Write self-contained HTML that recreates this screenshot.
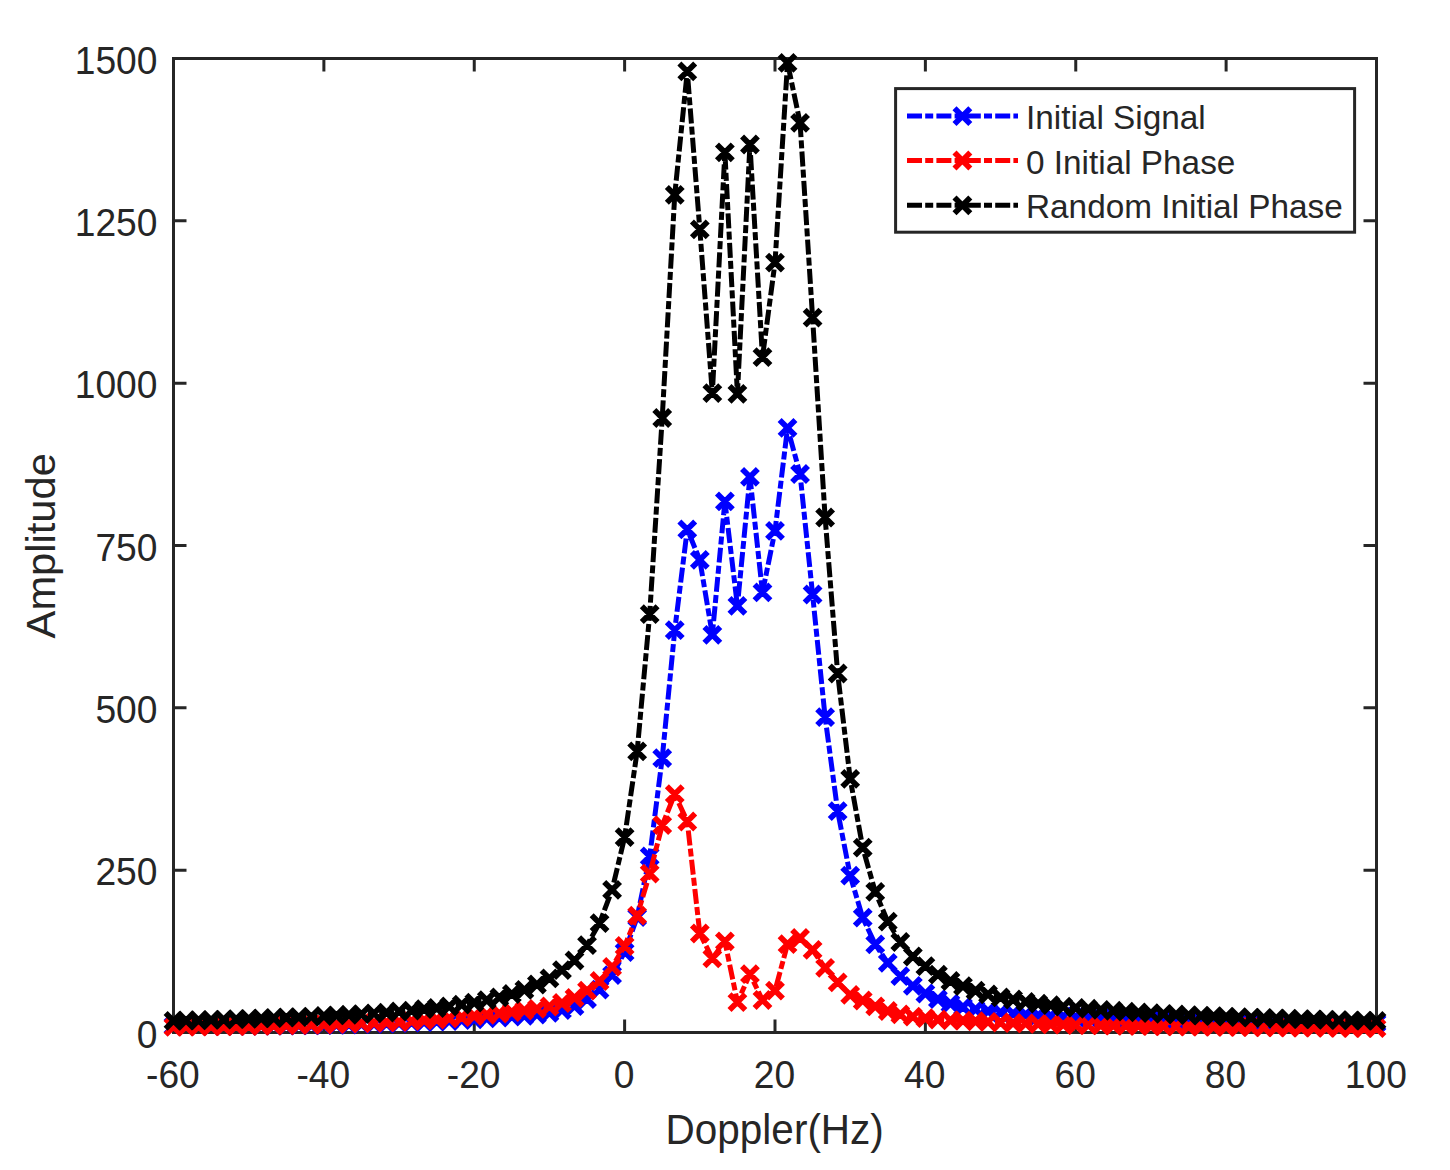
<!DOCTYPE html>
<html><head><meta charset="utf-8"><title>Doppler spectrum</title>
<style>
html,body{margin:0;padding:0;background:#fff;}
body{width:1450px;height:1170px;overflow:hidden;}
svg{display:block;}
text{font-family:"Liberation Sans",sans-serif;fill:#262626;}
.tk{font-size:37.2px;}
.lb{font-size:41.25px;}
.lg{font-size:33.33px;}
</style></head><body>
<svg width="1450" height="1170" viewBox="0 0 1450 1170">
<rect x="0" y="0" width="1450" height="1170" fill="#ffffff"/>
<rect x="173.5" y="58.5" width="1203.0" height="974.0" fill="none" stroke="#262626" stroke-width="3"/>
<path d="M173.50 1032.5V1019.5M173.50 58.5V71.5M323.88 1032.5V1019.5M323.88 58.5V71.5M474.25 1032.5V1019.5M474.25 58.5V71.5M624.62 1032.5V1019.5M624.62 58.5V71.5M775.00 1032.5V1019.5M775.00 58.5V71.5M925.38 1032.5V1019.5M925.38 58.5V71.5M1075.75 1032.5V1019.5M1075.75 58.5V71.5M1226.12 1032.5V1019.5M1226.12 58.5V71.5M1376.50 1032.5V1019.5M1376.50 58.5V71.5M173.5 1032.50H186.5M1376.5 1032.50H1363.5M173.5 870.17H186.5M1376.5 870.17H1363.5M173.5 707.83H186.5M1376.5 707.83H1363.5M173.5 545.50H186.5M1376.5 545.50H1363.5M173.5 383.17H186.5M1376.5 383.17H1363.5M173.5 220.83H186.5M1376.5 220.83H1363.5M173.5 58.50H186.5M1376.5 58.50H1363.5" fill="none" stroke="#262626" stroke-width="3"/>
<text class="tk" transform="translate(172.90 1087.6) scale(1 1.035)" text-anchor="middle">-60</text>
<text class="tk" transform="translate(323.27 1087.6) scale(1 1.035)" text-anchor="middle">-40</text>
<text class="tk" transform="translate(473.65 1087.6) scale(1 1.035)" text-anchor="middle">-20</text>
<text class="tk" transform="translate(624.02 1087.6) scale(1 1.035)" text-anchor="middle">0</text>
<text class="tk" transform="translate(774.40 1087.6) scale(1 1.035)" text-anchor="middle">20</text>
<text class="tk" transform="translate(924.77 1087.6) scale(1 1.035)" text-anchor="middle">40</text>
<text class="tk" transform="translate(1075.15 1087.6) scale(1 1.035)" text-anchor="middle">60</text>
<text class="tk" transform="translate(1225.53 1087.6) scale(1 1.035)" text-anchor="middle">80</text>
<text class="tk" transform="translate(1375.90 1087.6) scale(1 1.035)" text-anchor="middle">100</text>
<text class="tk" transform="translate(157.5 1047.50) scale(1 1.035)" text-anchor="end">0</text>
<text class="tk" transform="translate(157.5 885.17) scale(1 1.035)" text-anchor="end">250</text>
<text class="tk" transform="translate(157.5 722.83) scale(1 1.035)" text-anchor="end">500</text>
<text class="tk" transform="translate(157.5 560.50) scale(1 1.035)" text-anchor="end">750</text>
<text class="tk" transform="translate(157.5 398.17) scale(1 1.035)" text-anchor="end">1000</text>
<text class="tk" transform="translate(157.5 235.83) scale(1 1.035)" text-anchor="end">1250</text>
<text class="tk" transform="translate(157.5 73.50) scale(1 1.035)" text-anchor="end">1500</text>
<text class="lb" transform="translate(774.7 1143.8) scale(0.982 1.03)" text-anchor="middle">Doppler(Hz)</text>
<text class="lb" transform="translate(54.9 545.8) rotate(-90) scale(1.01 1)" text-anchor="middle">Amplitude</text>
<path d="M173.50 1026.00L186.03 1025.97L198.56 1025.93L211.09 1025.90L223.62 1025.87L236.16 1025.83L248.69 1025.80L261.22 1025.70L273.75 1025.60L286.28 1025.50L298.81 1025.40L311.34 1025.30L323.88 1025.20L336.41 1024.87L348.94 1024.53L361.47 1024.20L374.00 1023.87L386.53 1023.53L399.06 1023.20L411.59 1022.65L424.12 1022.10L436.66 1021.55L449.19 1021.00L461.72 1020.15L474.25 1019.30L486.78 1018.40L499.31 1017.50L511.84 1016.65L524.38 1015.80L536.91 1014.50L549.44 1012.80L561.97 1010.00L574.50 1006.20L587.03 999.00L599.56 989.70L612.09 975.20L624.62 952.20L637.16 917.20L649.69 856.30L662.22 758.20L674.75 630.10L687.28 529.30L699.81 559.90L712.34 634.80L724.88 501.40L737.41 605.90L749.94 476.80L762.47 592.40L775.00 530.80L787.53 427.90L800.06 474.00L812.59 594.50L825.12 717.20L837.66 811.10L850.19 875.60L862.72 917.70L875.25 944.40L887.78 962.90L900.31 976.20L912.84 985.90L925.38 993.50L937.91 999.20L950.44 1003.60L962.97 1007.00L975.50 1009.30L988.03 1011.10L1000.56 1012.60L1013.09 1013.70L1025.62 1014.60L1038.16 1015.40L1050.69 1016.00L1063.22 1016.50L1075.75 1017.00L1088.28 1017.38L1100.81 1017.77L1113.34 1018.15L1125.88 1018.53L1138.41 1018.92L1150.94 1019.30L1163.47 1019.58L1176.00 1019.87L1188.53 1020.15L1201.06 1020.43L1213.59 1020.72L1226.12 1021.00L1238.66 1021.20L1251.19 1021.40L1263.72 1021.60L1276.25 1021.80L1288.78 1022.00L1301.31 1022.20L1313.84 1022.33L1326.38 1022.47L1338.91 1022.60L1351.44 1022.73L1363.97 1022.87L1376.50 1023.00" fill="none" stroke="#0000ff" stroke-width="5.0" stroke-dasharray="15 3.2 8 3.2" stroke-linejoin="round"/>
<path d="M165.60 1018.10L181.40 1033.90M165.60 1033.90L181.40 1018.10M178.13 1018.07L193.93 1033.87M178.13 1033.87L193.93 1018.07M190.66 1018.03L206.46 1033.83M190.66 1033.83L206.46 1018.03M203.19 1018.00L218.99 1033.80M203.19 1033.80L218.99 1018.00M215.72 1017.97L231.53 1033.77M215.72 1033.77L231.53 1017.97M228.26 1017.93L244.06 1033.73M228.26 1033.73L244.06 1017.93M240.79 1017.90L256.59 1033.70M240.79 1033.70L256.59 1017.90M253.32 1017.80L269.12 1033.60M253.32 1033.60L269.12 1017.80M265.85 1017.70L281.65 1033.50M265.85 1033.50L281.65 1017.70M278.38 1017.60L294.18 1033.40M278.38 1033.40L294.18 1017.60M290.91 1017.50L306.71 1033.30M290.91 1033.30L306.71 1017.50M303.44 1017.40L319.24 1033.20M303.44 1033.20L319.24 1017.40M315.98 1017.30L331.77 1033.10M315.98 1033.10L331.77 1017.30M328.51 1016.97L344.31 1032.77M328.51 1032.77L344.31 1016.97M341.04 1016.63L356.84 1032.43M341.04 1032.43L356.84 1016.63M353.57 1016.30L369.37 1032.10M353.57 1032.10L369.37 1016.30M366.10 1015.97L381.90 1031.77M366.10 1031.77L381.90 1015.97M378.63 1015.63L394.43 1031.43M378.63 1031.43L394.43 1015.63M391.16 1015.30L406.96 1031.10M391.16 1031.10L406.96 1015.30M403.69 1014.75L419.49 1030.55M403.69 1030.55L419.49 1014.75M416.23 1014.20L432.02 1030.00M416.23 1030.00L432.02 1014.20M428.76 1013.65L444.56 1029.45M428.76 1029.45L444.56 1013.65M441.29 1013.10L457.09 1028.90M441.29 1028.90L457.09 1013.10M453.82 1012.25L469.62 1028.05M453.82 1028.05L469.62 1012.25M466.35 1011.40L482.15 1027.20M466.35 1027.20L482.15 1011.40M478.88 1010.50L494.68 1026.30M478.88 1026.30L494.68 1010.50M491.41 1009.60L507.21 1025.40M491.41 1025.40L507.21 1009.60M503.94 1008.75L519.74 1024.55M503.94 1024.55L519.74 1008.75M516.48 1007.90L532.27 1023.70M516.48 1023.70L532.27 1007.90M529.01 1006.60L544.81 1022.40M529.01 1022.40L544.81 1006.60M541.54 1004.90L557.34 1020.70M541.54 1020.70L557.34 1004.90M554.07 1002.10L569.87 1017.90M554.07 1017.90L569.87 1002.10M566.60 998.30L582.40 1014.10M566.60 1014.10L582.40 998.30M579.13 991.10L594.93 1006.90M579.13 1006.90L594.93 991.10M591.66 981.80L607.46 997.60M591.66 997.60L607.46 981.80M604.19 967.30L619.99 983.10M604.19 983.10L619.99 967.30M616.73 944.30L632.52 960.10M616.73 960.10L632.52 944.30M629.26 909.30L645.06 925.10M629.26 925.10L645.06 909.30M641.79 848.40L657.59 864.20M641.79 864.20L657.59 848.40M654.32 750.30L670.12 766.10M654.32 766.10L670.12 750.30M666.85 622.20L682.65 638.00M666.85 638.00L682.65 622.20M679.38 521.40L695.18 537.20M679.38 537.20L695.18 521.40M691.91 552.00L707.71 567.80M691.91 567.80L707.71 552.00M704.44 626.90L720.24 642.70M704.44 642.70L720.24 626.90M716.98 493.50L732.77 509.30M716.98 509.30L732.77 493.50M729.51 598.00L745.31 613.80M729.51 613.80L745.31 598.00M742.04 468.90L757.84 484.70M742.04 484.70L757.84 468.90M754.57 584.50L770.37 600.30M754.57 600.30L770.37 584.50M767.10 522.90L782.90 538.70M767.10 538.70L782.90 522.90M779.63 420.00L795.43 435.80M779.63 435.80L795.43 420.00M792.16 466.10L807.96 481.90M792.16 481.90L807.96 466.10M804.69 586.60L820.49 602.40M804.69 602.40L820.49 586.60M817.23 709.30L833.02 725.10M817.23 725.10L833.02 709.30M829.76 803.20L845.56 819.00M829.76 819.00L845.56 803.20M842.29 867.70L858.09 883.50M842.29 883.50L858.09 867.70M854.82 909.80L870.62 925.60M854.82 925.60L870.62 909.80M867.35 936.50L883.15 952.30M867.35 952.30L883.15 936.50M879.88 955.00L895.68 970.80M879.88 970.80L895.68 955.00M892.41 968.30L908.21 984.10M892.41 984.10L908.21 968.30M904.94 978.00L920.74 993.80M904.94 993.80L920.74 978.00M917.48 985.60L933.27 1001.40M917.48 1001.40L933.27 985.60M930.01 991.30L945.81 1007.10M930.01 1007.10L945.81 991.30M942.54 995.70L958.34 1011.50M942.54 1011.50L958.34 995.70M955.07 999.10L970.87 1014.90M955.07 1014.90L970.87 999.10M967.60 1001.40L983.40 1017.20M967.60 1017.20L983.40 1001.40M980.13 1003.20L995.93 1019.00M980.13 1019.00L995.93 1003.20M992.66 1004.70L1008.46 1020.50M992.66 1020.50L1008.46 1004.70M1005.19 1005.80L1020.99 1021.60M1005.19 1021.60L1020.99 1005.80M1017.73 1006.70L1033.53 1022.50M1017.73 1022.50L1033.53 1006.70M1030.26 1007.50L1046.06 1023.30M1030.26 1023.30L1046.06 1007.50M1042.79 1008.10L1058.59 1023.90M1042.79 1023.90L1058.59 1008.10M1055.32 1008.60L1071.12 1024.40M1055.32 1024.40L1071.12 1008.60M1067.85 1009.10L1083.65 1024.90M1067.85 1024.90L1083.65 1009.10M1080.38 1009.48L1096.18 1025.28M1080.38 1025.28L1096.18 1009.48M1092.91 1009.87L1108.71 1025.67M1092.91 1025.67L1108.71 1009.87M1105.44 1010.25L1121.24 1026.05M1105.44 1026.05L1121.24 1010.25M1117.97 1010.63L1133.78 1026.43M1117.97 1026.43L1133.78 1010.63M1130.51 1011.02L1146.31 1026.82M1130.51 1026.82L1146.31 1011.02M1143.04 1011.40L1158.84 1027.20M1143.04 1027.20L1158.84 1011.40M1155.57 1011.68L1171.37 1027.48M1155.57 1027.48L1171.37 1011.68M1168.10 1011.97L1183.90 1027.77M1168.10 1027.77L1183.90 1011.97M1180.63 1012.25L1196.43 1028.05M1180.63 1028.05L1196.43 1012.25M1193.16 1012.53L1208.96 1028.33M1193.16 1028.33L1208.96 1012.53M1205.69 1012.82L1221.49 1028.62M1205.69 1028.62L1221.49 1012.82M1218.22 1013.10L1234.03 1028.90M1218.22 1028.90L1234.03 1013.10M1230.76 1013.30L1246.56 1029.10M1230.76 1029.10L1246.56 1013.30M1243.29 1013.50L1259.09 1029.30M1243.29 1029.30L1259.09 1013.50M1255.82 1013.70L1271.62 1029.50M1255.82 1029.50L1271.62 1013.70M1268.35 1013.90L1284.15 1029.70M1268.35 1029.70L1284.15 1013.90M1280.88 1014.10L1296.68 1029.90M1280.88 1029.90L1296.68 1014.10M1293.41 1014.30L1309.21 1030.10M1293.41 1030.10L1309.21 1014.30M1305.94 1014.43L1321.74 1030.23M1305.94 1030.23L1321.74 1014.43M1318.47 1014.57L1334.28 1030.37M1318.47 1030.37L1334.28 1014.57M1331.01 1014.70L1346.81 1030.50M1331.01 1030.50L1346.81 1014.70M1343.54 1014.83L1359.34 1030.63M1343.54 1030.63L1359.34 1014.83M1356.07 1014.97L1371.87 1030.77M1356.07 1030.77L1371.87 1014.97M1368.60 1015.10L1384.40 1030.90M1368.60 1030.90L1384.40 1015.10" fill="none" stroke="#0000ff" stroke-width="5.7"/>
<path d="M173.50 1026.80L186.03 1026.67L198.56 1026.53L211.09 1026.40L223.62 1026.27L236.16 1026.13L248.69 1026.00L261.22 1025.75L273.75 1025.50L286.28 1025.25L298.81 1025.00L311.34 1024.75L323.88 1024.50L336.41 1024.08L348.94 1023.67L361.47 1023.25L374.00 1022.83L386.53 1022.42L399.06 1022.00L411.59 1021.17L424.12 1020.33L436.66 1019.50L449.19 1018.33L461.72 1017.17L474.25 1016.00L486.78 1014.75L499.31 1013.50L511.84 1012.00L524.38 1010.50L536.91 1008.80L549.44 1006.50L561.97 1003.00L574.50 997.90L587.03 990.70L599.56 981.00L612.09 966.90L624.62 946.00L637.16 915.70L649.69 873.70L662.22 825.20L674.75 794.20L687.28 821.50L699.81 933.50L712.34 958.40L724.88 941.40L737.41 1002.10L749.94 974.10L762.47 1000.00L775.00 990.70L787.53 944.20L800.06 938.00L812.59 949.90L825.12 967.90L837.66 982.40L850.19 994.80L862.72 1000.50L875.25 1006.40L887.78 1011.00L900.31 1014.30L912.84 1016.60L925.38 1018.20L937.91 1019.50L950.44 1020.30L962.97 1020.60L975.50 1021.23L988.03 1021.87L1000.56 1022.50L1013.09 1022.97L1025.62 1023.43L1038.16 1023.90L1050.69 1024.27L1063.22 1024.63L1075.75 1025.00L1088.28 1025.18L1100.81 1025.37L1113.34 1025.55L1125.88 1025.73L1138.41 1025.92L1150.94 1026.10L1163.47 1026.23L1176.00 1026.37L1188.53 1026.50L1201.06 1026.63L1213.59 1026.77L1226.12 1026.90L1238.66 1027.02L1251.19 1027.13L1263.72 1027.25L1276.25 1027.37L1288.78 1027.48L1301.31 1027.60L1313.84 1027.70L1326.38 1027.80L1338.91 1027.90L1351.44 1028.00L1363.97 1028.10L1376.50 1028.20" fill="none" stroke="#ff0000" stroke-width="5.0" stroke-dasharray="15 3.2 8 3.2" stroke-linejoin="round"/>
<path d="M165.60 1018.90L181.40 1034.70M165.60 1034.70L181.40 1018.90M178.13 1018.77L193.93 1034.57M178.13 1034.57L193.93 1018.77M190.66 1018.63L206.46 1034.43M190.66 1034.43L206.46 1018.63M203.19 1018.50L218.99 1034.30M203.19 1034.30L218.99 1018.50M215.72 1018.37L231.53 1034.17M215.72 1034.17L231.53 1018.37M228.26 1018.23L244.06 1034.03M228.26 1034.03L244.06 1018.23M240.79 1018.10L256.59 1033.90M240.79 1033.90L256.59 1018.10M253.32 1017.85L269.12 1033.65M253.32 1033.65L269.12 1017.85M265.85 1017.60L281.65 1033.40M265.85 1033.40L281.65 1017.60M278.38 1017.35L294.18 1033.15M278.38 1033.15L294.18 1017.35M290.91 1017.10L306.71 1032.90M290.91 1032.90L306.71 1017.10M303.44 1016.85L319.24 1032.65M303.44 1032.65L319.24 1016.85M315.98 1016.60L331.77 1032.40M315.98 1032.40L331.77 1016.60M328.51 1016.18L344.31 1031.98M328.51 1031.98L344.31 1016.18M341.04 1015.77L356.84 1031.57M341.04 1031.57L356.84 1015.77M353.57 1015.35L369.37 1031.15M353.57 1031.15L369.37 1015.35M366.10 1014.93L381.90 1030.73M366.10 1030.73L381.90 1014.93M378.63 1014.52L394.43 1030.32M378.63 1030.32L394.43 1014.52M391.16 1014.10L406.96 1029.90M391.16 1029.90L406.96 1014.10M403.69 1013.27L419.49 1029.07M403.69 1029.07L419.49 1013.27M416.23 1012.43L432.02 1028.23M416.23 1028.23L432.02 1012.43M428.76 1011.60L444.56 1027.40M428.76 1027.40L444.56 1011.60M441.29 1010.43L457.09 1026.23M441.29 1026.23L457.09 1010.43M453.82 1009.27L469.62 1025.07M453.82 1025.07L469.62 1009.27M466.35 1008.10L482.15 1023.90M466.35 1023.90L482.15 1008.10M478.88 1006.85L494.68 1022.65M478.88 1022.65L494.68 1006.85M491.41 1005.60L507.21 1021.40M491.41 1021.40L507.21 1005.60M503.94 1004.10L519.74 1019.90M503.94 1019.90L519.74 1004.10M516.48 1002.60L532.27 1018.40M516.48 1018.40L532.27 1002.60M529.01 1000.90L544.81 1016.70M529.01 1016.70L544.81 1000.90M541.54 998.60L557.34 1014.40M541.54 1014.40L557.34 998.60M554.07 995.10L569.87 1010.90M554.07 1010.90L569.87 995.10M566.60 990.00L582.40 1005.80M566.60 1005.80L582.40 990.00M579.13 982.80L594.93 998.60M579.13 998.60L594.93 982.80M591.66 973.10L607.46 988.90M591.66 988.90L607.46 973.10M604.19 959.00L619.99 974.80M604.19 974.80L619.99 959.00M616.73 938.10L632.52 953.90M616.73 953.90L632.52 938.10M629.26 907.80L645.06 923.60M629.26 923.60L645.06 907.80M641.79 865.80L657.59 881.60M641.79 881.60L657.59 865.80M654.32 817.30L670.12 833.10M654.32 833.10L670.12 817.30M666.85 786.30L682.65 802.10M666.85 802.10L682.65 786.30M679.38 813.60L695.18 829.40M679.38 829.40L695.18 813.60M691.91 925.60L707.71 941.40M691.91 941.40L707.71 925.60M704.44 950.50L720.24 966.30M704.44 966.30L720.24 950.50M716.98 933.50L732.77 949.30M716.98 949.30L732.77 933.50M729.51 994.20L745.31 1010.00M729.51 1010.00L745.31 994.20M742.04 966.20L757.84 982.00M742.04 982.00L757.84 966.20M754.57 992.10L770.37 1007.90M754.57 1007.90L770.37 992.10M767.10 982.80L782.90 998.60M767.10 998.60L782.90 982.80M779.63 936.30L795.43 952.10M779.63 952.10L795.43 936.30M792.16 930.10L807.96 945.90M792.16 945.90L807.96 930.10M804.69 942.00L820.49 957.80M804.69 957.80L820.49 942.00M817.23 960.00L833.02 975.80M817.23 975.80L833.02 960.00M829.76 974.50L845.56 990.30M829.76 990.30L845.56 974.50M842.29 986.90L858.09 1002.70M842.29 1002.70L858.09 986.90M854.82 992.60L870.62 1008.40M854.82 1008.40L870.62 992.60M867.35 998.50L883.15 1014.30M867.35 1014.30L883.15 998.50M879.88 1003.10L895.68 1018.90M879.88 1018.90L895.68 1003.10M892.41 1006.40L908.21 1022.20M892.41 1022.20L908.21 1006.40M904.94 1008.70L920.74 1024.50M904.94 1024.50L920.74 1008.70M917.48 1010.30L933.27 1026.10M917.48 1026.10L933.27 1010.30M930.01 1011.60L945.81 1027.40M930.01 1027.40L945.81 1011.60M942.54 1012.40L958.34 1028.20M942.54 1028.20L958.34 1012.40M955.07 1012.70L970.87 1028.50M955.07 1028.50L970.87 1012.70M967.60 1013.33L983.40 1029.13M967.60 1029.13L983.40 1013.33M980.13 1013.97L995.93 1029.77M980.13 1029.77L995.93 1013.97M992.66 1014.60L1008.46 1030.40M992.66 1030.40L1008.46 1014.60M1005.19 1015.07L1020.99 1030.87M1005.19 1030.87L1020.99 1015.07M1017.73 1015.53L1033.53 1031.33M1017.73 1031.33L1033.53 1015.53M1030.26 1016.00L1046.06 1031.80M1030.26 1031.80L1046.06 1016.00M1042.79 1016.37L1058.59 1032.17M1042.79 1032.17L1058.59 1016.37M1055.32 1016.73L1071.12 1032.53M1055.32 1032.53L1071.12 1016.73M1067.85 1017.10L1083.65 1032.90M1067.85 1032.90L1083.65 1017.10M1080.38 1017.28L1096.18 1033.08M1080.38 1033.08L1096.18 1017.28M1092.91 1017.47L1108.71 1033.27M1092.91 1033.27L1108.71 1017.47M1105.44 1017.65L1121.24 1033.45M1105.44 1033.45L1121.24 1017.65M1117.97 1017.83L1133.78 1033.63M1117.97 1033.63L1133.78 1017.83M1130.51 1018.02L1146.31 1033.82M1130.51 1033.82L1146.31 1018.02M1143.04 1018.20L1158.84 1034.00M1143.04 1034.00L1158.84 1018.20M1155.57 1018.33L1171.37 1034.13M1155.57 1034.13L1171.37 1018.33M1168.10 1018.47L1183.90 1034.27M1168.10 1034.27L1183.90 1018.47M1180.63 1018.60L1196.43 1034.40M1180.63 1034.40L1196.43 1018.60M1193.16 1018.73L1208.96 1034.53M1193.16 1034.53L1208.96 1018.73M1205.69 1018.87L1221.49 1034.67M1205.69 1034.67L1221.49 1018.87M1218.22 1019.00L1234.03 1034.80M1218.22 1034.80L1234.03 1019.00M1230.76 1019.12L1246.56 1034.92M1230.76 1034.92L1246.56 1019.12M1243.29 1019.23L1259.09 1035.03M1243.29 1035.03L1259.09 1019.23M1255.82 1019.35L1271.62 1035.15M1255.82 1035.15L1271.62 1019.35M1268.35 1019.47L1284.15 1035.27M1268.35 1035.27L1284.15 1019.47M1280.88 1019.58L1296.68 1035.38M1280.88 1035.38L1296.68 1019.58M1293.41 1019.70L1309.21 1035.50M1293.41 1035.50L1309.21 1019.70M1305.94 1019.80L1321.74 1035.60M1305.94 1035.60L1321.74 1019.80M1318.47 1019.90L1334.28 1035.70M1318.47 1035.70L1334.28 1019.90M1331.01 1020.00L1346.81 1035.80M1331.01 1035.80L1346.81 1020.00M1343.54 1020.10L1359.34 1035.90M1343.54 1035.90L1359.34 1020.10M1356.07 1020.20L1371.87 1036.00M1356.07 1036.00L1371.87 1020.20M1368.60 1020.30L1384.40 1036.10M1368.60 1036.10L1384.40 1020.30" fill="none" stroke="#ff0000" stroke-width="5.7"/>
<path d="M173.50 1020.81L186.03 1020.52L198.56 1020.22L211.09 1019.90L223.62 1019.56L236.16 1019.20L248.69 1018.82L261.22 1018.42L273.75 1017.99L286.28 1017.54L298.81 1017.06L311.34 1016.55L323.88 1016.00L336.41 1015.42L348.94 1014.79L361.47 1014.11L374.00 1013.38L386.53 1012.59L399.06 1011.50L411.59 1010.60L424.12 1009.20L436.66 1008.00L449.19 1006.50L461.72 1004.70L474.25 1002.70L486.78 1000.10L499.31 997.40L511.84 994.00L524.38 989.80L536.91 984.50L549.44 978.40L561.97 970.10L574.50 960.50L587.03 945.10L599.56 923.10L612.09 889.90L624.62 837.20L637.16 751.30L649.69 614.10L662.22 418.00L674.75 194.80L687.28 71.40L699.81 229.30L712.34 393.20L724.88 152.30L737.41 393.80L749.94 144.50L762.47 357.20L775.00 262.60L787.53 62.80L800.06 122.80L812.59 317.70L825.12 517.50L837.66 673.50L850.19 778.80L862.72 847.60L875.25 891.80L887.78 921.60L900.31 942.00L912.84 956.50L925.38 966.20L937.91 974.70L950.44 981.00L962.97 986.10L975.50 990.70L988.03 994.30L1000.56 997.30L1013.09 999.50L1025.62 1001.80L1038.16 1003.60L1050.69 1005.20L1063.22 1006.60L1075.75 1007.80L1088.28 1008.77L1100.81 1009.80L1113.34 1010.75L1125.88 1011.62L1138.41 1012.42L1150.94 1013.16L1163.47 1013.85L1176.00 1014.50L1188.53 1015.10L1201.06 1015.66L1213.59 1016.19L1226.12 1016.68L1238.66 1017.15L1251.19 1017.58L1263.72 1018.00L1276.25 1018.39L1288.78 1018.76L1301.31 1019.11L1313.84 1019.45L1326.38 1019.77L1338.91 1020.07L1351.44 1020.36L1363.97 1020.63L1376.50 1020.90" fill="none" stroke="#000000" stroke-width="5.0" stroke-dasharray="15 3.2 8 3.2" stroke-linejoin="round"/>
<path d="M165.60 1012.91L181.40 1028.71M165.60 1028.71L181.40 1012.91M178.13 1012.62L193.93 1028.42M178.13 1028.42L193.93 1012.62M190.66 1012.32L206.46 1028.12M190.66 1028.12L206.46 1012.32M203.19 1012.00L218.99 1027.80M203.19 1027.80L218.99 1012.00M215.72 1011.66L231.53 1027.46M215.72 1027.46L231.53 1011.66M228.26 1011.30L244.06 1027.10M228.26 1027.10L244.06 1011.30M240.79 1010.92L256.59 1026.72M240.79 1026.72L256.59 1010.92M253.32 1010.52L269.12 1026.32M253.32 1026.32L269.12 1010.52M265.85 1010.09L281.65 1025.89M265.85 1025.89L281.65 1010.09M278.38 1009.64L294.18 1025.44M278.38 1025.44L294.18 1009.64M290.91 1009.16L306.71 1024.96M290.91 1024.96L306.71 1009.16M303.44 1008.65L319.24 1024.45M303.44 1024.45L319.24 1008.65M315.98 1008.10L331.77 1023.90M315.98 1023.90L331.77 1008.10M328.51 1007.52L344.31 1023.32M328.51 1023.32L344.31 1007.52M341.04 1006.89L356.84 1022.69M341.04 1022.69L356.84 1006.89M353.57 1006.21L369.37 1022.01M353.57 1022.01L369.37 1006.21M366.10 1005.48L381.90 1021.28M366.10 1021.28L381.90 1005.48M378.63 1004.69L394.43 1020.49M378.63 1020.49L394.43 1004.69M391.16 1003.60L406.96 1019.40M391.16 1019.40L406.96 1003.60M403.69 1002.70L419.49 1018.50M403.69 1018.50L419.49 1002.70M416.23 1001.30L432.02 1017.10M416.23 1017.10L432.02 1001.30M428.76 1000.10L444.56 1015.90M428.76 1015.90L444.56 1000.10M441.29 998.60L457.09 1014.40M441.29 1014.40L457.09 998.60M453.82 996.80L469.62 1012.60M453.82 1012.60L469.62 996.80M466.35 994.80L482.15 1010.60M466.35 1010.60L482.15 994.80M478.88 992.20L494.68 1008.00M478.88 1008.00L494.68 992.20M491.41 989.50L507.21 1005.30M491.41 1005.30L507.21 989.50M503.94 986.10L519.74 1001.90M503.94 1001.90L519.74 986.10M516.48 981.90L532.27 997.70M516.48 997.70L532.27 981.90M529.01 976.60L544.81 992.40M529.01 992.40L544.81 976.60M541.54 970.50L557.34 986.30M541.54 986.30L557.34 970.50M554.07 962.20L569.87 978.00M554.07 978.00L569.87 962.20M566.60 952.60L582.40 968.40M566.60 968.40L582.40 952.60M579.13 937.20L594.93 953.00M579.13 953.00L594.93 937.20M591.66 915.20L607.46 931.00M591.66 931.00L607.46 915.20M604.19 882.00L619.99 897.80M604.19 897.80L619.99 882.00M616.73 829.30L632.52 845.10M616.73 845.10L632.52 829.30M629.26 743.40L645.06 759.20M629.26 759.20L645.06 743.40M641.79 606.20L657.59 622.00M641.79 622.00L657.59 606.20M654.32 410.10L670.12 425.90M654.32 425.90L670.12 410.10M666.85 186.90L682.65 202.70M666.85 202.70L682.65 186.90M679.38 63.50L695.18 79.30M679.38 79.30L695.18 63.50M691.91 221.40L707.71 237.20M691.91 237.20L707.71 221.40M704.44 385.30L720.24 401.10M704.44 401.10L720.24 385.30M716.98 144.40L732.77 160.20M716.98 160.20L732.77 144.40M729.51 385.90L745.31 401.70M729.51 401.70L745.31 385.90M742.04 136.60L757.84 152.40M742.04 152.40L757.84 136.60M754.57 349.30L770.37 365.10M754.57 365.10L770.37 349.30M767.10 254.70L782.90 270.50M767.10 270.50L782.90 254.70M779.63 54.90L795.43 70.70M779.63 70.70L795.43 54.90M792.16 114.90L807.96 130.70M792.16 130.70L807.96 114.90M804.69 309.80L820.49 325.60M804.69 325.60L820.49 309.80M817.23 509.60L833.02 525.40M817.23 525.40L833.02 509.60M829.76 665.60L845.56 681.40M829.76 681.40L845.56 665.60M842.29 770.90L858.09 786.70M842.29 786.70L858.09 770.90M854.82 839.70L870.62 855.50M854.82 855.50L870.62 839.70M867.35 883.90L883.15 899.70M867.35 899.70L883.15 883.90M879.88 913.70L895.68 929.50M879.88 929.50L895.68 913.70M892.41 934.10L908.21 949.90M892.41 949.90L908.21 934.10M904.94 948.60L920.74 964.40M904.94 964.40L920.74 948.60M917.48 958.30L933.27 974.10M917.48 974.10L933.27 958.30M930.01 966.80L945.81 982.60M930.01 982.60L945.81 966.80M942.54 973.10L958.34 988.90M942.54 988.90L958.34 973.10M955.07 978.20L970.87 994.00M955.07 994.00L970.87 978.20M967.60 982.80L983.40 998.60M967.60 998.60L983.40 982.80M980.13 986.40L995.93 1002.20M980.13 1002.20L995.93 986.40M992.66 989.40L1008.46 1005.20M992.66 1005.20L1008.46 989.40M1005.19 991.60L1020.99 1007.40M1005.19 1007.40L1020.99 991.60M1017.73 993.90L1033.53 1009.70M1017.73 1009.70L1033.53 993.90M1030.26 995.70L1046.06 1011.50M1030.26 1011.50L1046.06 995.70M1042.79 997.30L1058.59 1013.10M1042.79 1013.10L1058.59 997.30M1055.32 998.70L1071.12 1014.50M1055.32 1014.50L1071.12 998.70M1067.85 999.90L1083.65 1015.70M1067.85 1015.70L1083.65 999.90M1080.38 1000.87L1096.18 1016.67M1080.38 1016.67L1096.18 1000.87M1092.91 1001.90L1108.71 1017.70M1092.91 1017.70L1108.71 1001.90M1105.44 1002.85L1121.24 1018.65M1105.44 1018.65L1121.24 1002.85M1117.97 1003.72L1133.78 1019.52M1117.97 1019.52L1133.78 1003.72M1130.51 1004.52L1146.31 1020.32M1130.51 1020.32L1146.31 1004.52M1143.04 1005.26L1158.84 1021.06M1143.04 1021.06L1158.84 1005.26M1155.57 1005.95L1171.37 1021.75M1155.57 1021.75L1171.37 1005.95M1168.10 1006.60L1183.90 1022.40M1168.10 1022.40L1183.90 1006.60M1180.63 1007.20L1196.43 1023.00M1180.63 1023.00L1196.43 1007.20M1193.16 1007.76L1208.96 1023.56M1193.16 1023.56L1208.96 1007.76M1205.69 1008.29L1221.49 1024.09M1205.69 1024.09L1221.49 1008.29M1218.22 1008.78L1234.03 1024.58M1218.22 1024.58L1234.03 1008.78M1230.76 1009.25L1246.56 1025.05M1230.76 1025.05L1246.56 1009.25M1243.29 1009.68L1259.09 1025.48M1243.29 1025.48L1259.09 1009.68M1255.82 1010.10L1271.62 1025.90M1255.82 1025.90L1271.62 1010.10M1268.35 1010.49L1284.15 1026.29M1268.35 1026.29L1284.15 1010.49M1280.88 1010.86L1296.68 1026.66M1280.88 1026.66L1296.68 1010.86M1293.41 1011.21L1309.21 1027.01M1293.41 1027.01L1309.21 1011.21M1305.94 1011.55L1321.74 1027.35M1305.94 1027.35L1321.74 1011.55M1318.47 1011.87L1334.28 1027.67M1318.47 1027.67L1334.28 1011.87M1331.01 1012.17L1346.81 1027.97M1331.01 1027.97L1346.81 1012.17M1343.54 1012.46L1359.34 1028.26M1343.54 1028.26L1359.34 1012.46M1356.07 1012.73L1371.87 1028.53M1356.07 1028.53L1371.87 1012.73M1368.60 1013.00L1384.40 1028.80M1368.60 1028.80L1384.40 1013.00" fill="none" stroke="#000000" stroke-width="5.7"/>
<rect x="895.6" y="88.6" width="459" height="143.6" fill="#ffffff" stroke="#262626" stroke-width="3"/>
<path d="M907 116.1H1018" fill="none" stroke="#0000ff" stroke-width="5.0" stroke-dasharray="15 3.2 8 3.2"/>
<path d="M954.50 108.20L970.30 124.00M954.50 124.00L970.30 108.20" fill="none" stroke="#0000ff" stroke-width="5.7"/>
<text class="lg" x="1026" y="128.7">Initial Signal</text>
<path d="M907 160.5H1018" fill="none" stroke="#ff0000" stroke-width="5.0" stroke-dasharray="15 3.2 8 3.2"/>
<path d="M954.50 152.60L970.30 168.40M954.50 168.40L970.30 152.60" fill="none" stroke="#ff0000" stroke-width="5.7"/>
<text class="lg" x="1026" y="173.7">0 Initial Phase</text>
<path d="M907 205.3H1018" fill="none" stroke="#000000" stroke-width="5.0" stroke-dasharray="15 3.2 8 3.2"/>
<path d="M954.50 197.40L970.30 213.20M954.50 213.20L970.30 197.40" fill="none" stroke="#000000" stroke-width="5.7"/>
<text class="lg" x="1026" y="218.4">Random Initial Phase</text>
</svg>
</body></html>
